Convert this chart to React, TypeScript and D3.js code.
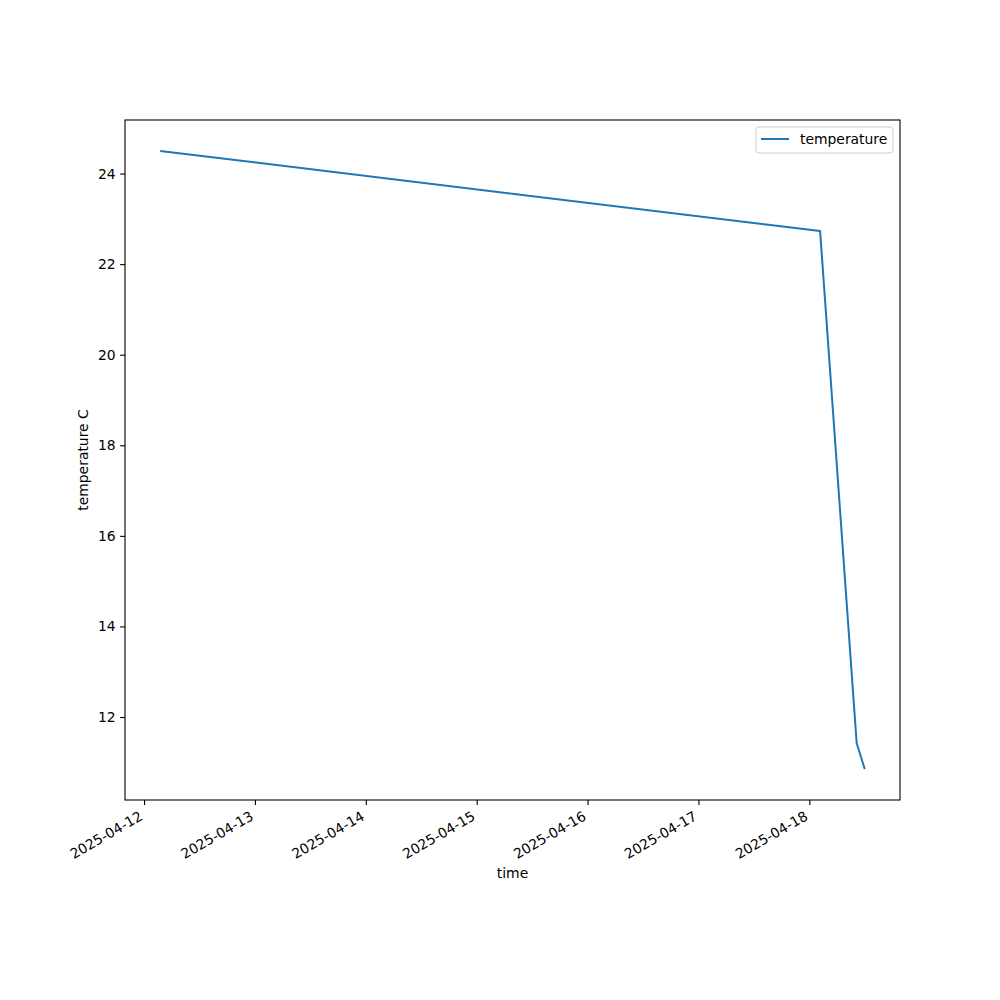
import React, { useEffect, useRef } from 'react';
import * as d3 from 'd3';

const times = ['2025-04-12T03:30:00Z', '2025-04-18T02:20:00Z', '2025-04-18T10:15:00Z', '2025-04-18T12:00:00Z'];
const temperature = [24.5, 22.73, 11.42, 10.85];
const yTicks = [12, 14, 16, 18, 20, 22, 24];
const seriesName = 'temperature';

const App = () => {
    const svgRef = useRef<SVGSVGElement>(null);

    useEffect(() => {
        document.body.style.margin = '0';

        const width = 1000;
        const height = 1000;
        const left = 125, right = 900, top = 120, bottom = 800;
        const color = '#1f77b4';
        const font = 'DejaVu Sans, sans-serif';

        const data = times.map((t, i) => ({ t: new Date(t), v: temperature[i] }));

        // matplotlib-style 5% margins
        const [t0, t1] = d3.extent(data, d => +d.t) as [number, number];
        const [v0, v1] = d3.extent(data, d => d.v) as [number, number];
        const tp = (t1 - t0) * 0.05;
        const vp = (v1 - v0) * 0.05;

        const x = d3.scaleUtc().domain([new Date(t0 - tp), new Date(t1 + tp)]).range([left, right]);
        const y = d3.scaleLinear().domain([v0 - vp, v1 + vp]).range([bottom, top]);

        const svg = d3.select(svgRef.current)
            .attr('width', width)
            .attr('height', height)
            .attr('viewBox', [0, 0, width, height])
            .style('display', 'block')
            .style('font-family', font);
        svg.selectAll('*').remove();

        svg.append('rect').attr('width', width).attr('height', height).attr('fill', 'white');

        // line
        svg.append('path')
            .datum(data)
            .attr('fill', 'none')
            .attr('stroke', color)
            .attr('stroke-width', 2)
            .attr('stroke-linejoin', 'round')
            .attr('d', d3.line<{ t: Date; v: number }>().x(d => x(d.t)).y(d => y(d.v)));

        // x axis
        const xTicks = x.ticks(d3.utcDay.every(1)!);
        const gx = svg.append('g')
            .attr('transform', `translate(0,${bottom})`)
            .call(d3.axisBottom(x).tickValues(xTicks).tickSize(4.9).tickPadding(5).tickFormat(d3.utcFormat('%Y-%m-%d') as any))
            .call(g => g.select('.domain').remove());
        gx.selectAll('line').attr('stroke', 'black').attr('stroke-width', 1.1);
        gx.selectAll('text')
            .attr('font-size', 13.9)
            .attr('font-family', font)
            .attr('fill', 'black')
            .attr('text-anchor', 'end')
            .attr('dy', null)
            .attr('y', 0)
            .attr('transform', 'translate(-1,19) rotate(-30)');

        // y axis
        const gy = svg.append('g')
            .attr('transform', `translate(${left},0)`)
            .call(d3.axisLeft(y).tickValues(yTicks).tickSize(4.9).tickPadding(4.5))
            .call(g => g.select('.domain').remove());
        gy.selectAll('line').attr('stroke', 'black').attr('stroke-width', 1.1);
        gy.selectAll('text').attr('font-size', 13.9).attr('font-family', font).attr('fill', 'black');

        // frame
        svg.append('rect')
            .attr('x', left).attr('y', top)
            .attr('width', right - left).attr('height', bottom - top)
            .attr('fill', 'none').attr('stroke', 'black').attr('stroke-width', 1.1);

        // labels
        svg.append('text')
            .attr('x', (left + right) / 2).attr('y', 878)
            .attr('text-anchor', 'middle').attr('font-size', 13.9).text('time');
        svg.append('text')
            .attr('transform', `translate(88,${(top + bottom) / 2}) rotate(-90)`)
            .attr('text-anchor', 'middle').attr('font-size', 13.9).text('temperature C');

        // legend
        const lg = svg.append('g');
        lg.append('rect')
            .attr('x', 756).attr('y', 127).attr('width', 137).attr('height', 26)
            .attr('rx', 3).attr('fill', 'white').attr('fill-opacity', 0.8)
            .attr('stroke', '#cccccc').attr('stroke-width', 1);
        lg.append('line')
            .attr('x1', 761).attr('x2', 789).attr('y1', 139).attr('y2', 139)
            .attr('stroke', color).attr('stroke-width', 2);
        lg.append('text')
            .attr('x', 800).attr('y', 144).attr('font-size', 13.9).text(seriesName);
    }, []);

    return <svg ref={svgRef}></svg>;
};

export default App;
